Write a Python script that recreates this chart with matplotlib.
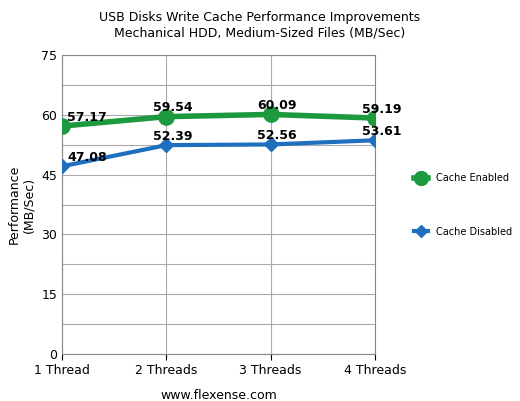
import matplotlib
matplotlib.use("Agg")
import matplotlib.pyplot as plt
from matplotlib.lines import Line2D

categories = ["1 Thread", "2 Threads", "3 Threads", "4 Threads"]
enabled = [57.17, 59.54, 60.09, 59.19]
disabled = [47.08, 52.39, 52.56, 53.61]
yticks = [0, 15, 30, 45, 60, 75]

fig = plt.figure(figsize=(5.2, 4.01), dpi=100)
ax = fig.add_axes([62/520, 1-354/401, 313/520, 299/401])
x = list(range(len(categories)))
green = "#1e9a3e"; blue = "#1f6fbf"
ax.plot(x, enabled, color=green, lw=4, marker="o", ms=11, zorder=3)
ax.plot(x, disabled, color=blue, lw=3, marker="D", ms=7, zorder=3)
for i, v in enumerate(enabled):
    ax.text(i + (0.05 if i == 0 else 0.06), v + 0.6, f"{v:.2f}", ha="left" if i == 0 else "center",
            va="bottom", fontsize=9, fontweight="bold", zorder=4)
for i, v in enumerate(disabled):
    ax.text(i + (0.05 if i == 0 else 0.06), v + 0.6, f"{v:.2f}", ha="left" if i == 0 else "center",
            va="bottom", fontsize=9, fontweight="bold", zorder=4)
ax.set_xlim(0, 3)
ax.set_ylim(0, 75)
ax.set_yticks(yticks)
ax.set_yticks([7.5 * k for k in range(11)], minor=True)
ax.set_xticks(x)
ax.set_xticklabels(categories, fontsize=9)
ax.tick_params(axis="y", labelsize=9, which="both", length=0)
ax.tick_params(axis="x", length=4)
ax.grid(True, which="both", axis="y", color="#aaaaaa", lw=0.8)
ax.grid(True, axis="x", color="#aaaaaa", lw=0.8)
for s in ax.spines.values():
    s.set_color("#888888")
ax.set_ylabel("Performance\n(MB/Sec)", fontsize=9)
ax.set_xlabel("www.flexense.com", fontsize=9, labelpad=8)
fig.text(0.5, 1-25/401, "USB Disks Write Cache Performance Improvements\nMechanical HDD, Medium-Sized Files (MB/Sec)",
         ha="center", va="center", fontsize=9)
handles = [Line2D([], [], color=green, lw=4, marker="o", ms=10),
           Line2D([], [], color=blue, lw=3, marker="D", ms=6)]
fig.legend(handles, ["Cache Enabled", "Cache Disabled"], loc="center left",
           bbox_to_anchor=(405/520, 1-205/401), frameon=False, fontsize=7,
           labelspacing=4.5, handlelength=1.5)
fig.savefig("out.png", dpi=100)
